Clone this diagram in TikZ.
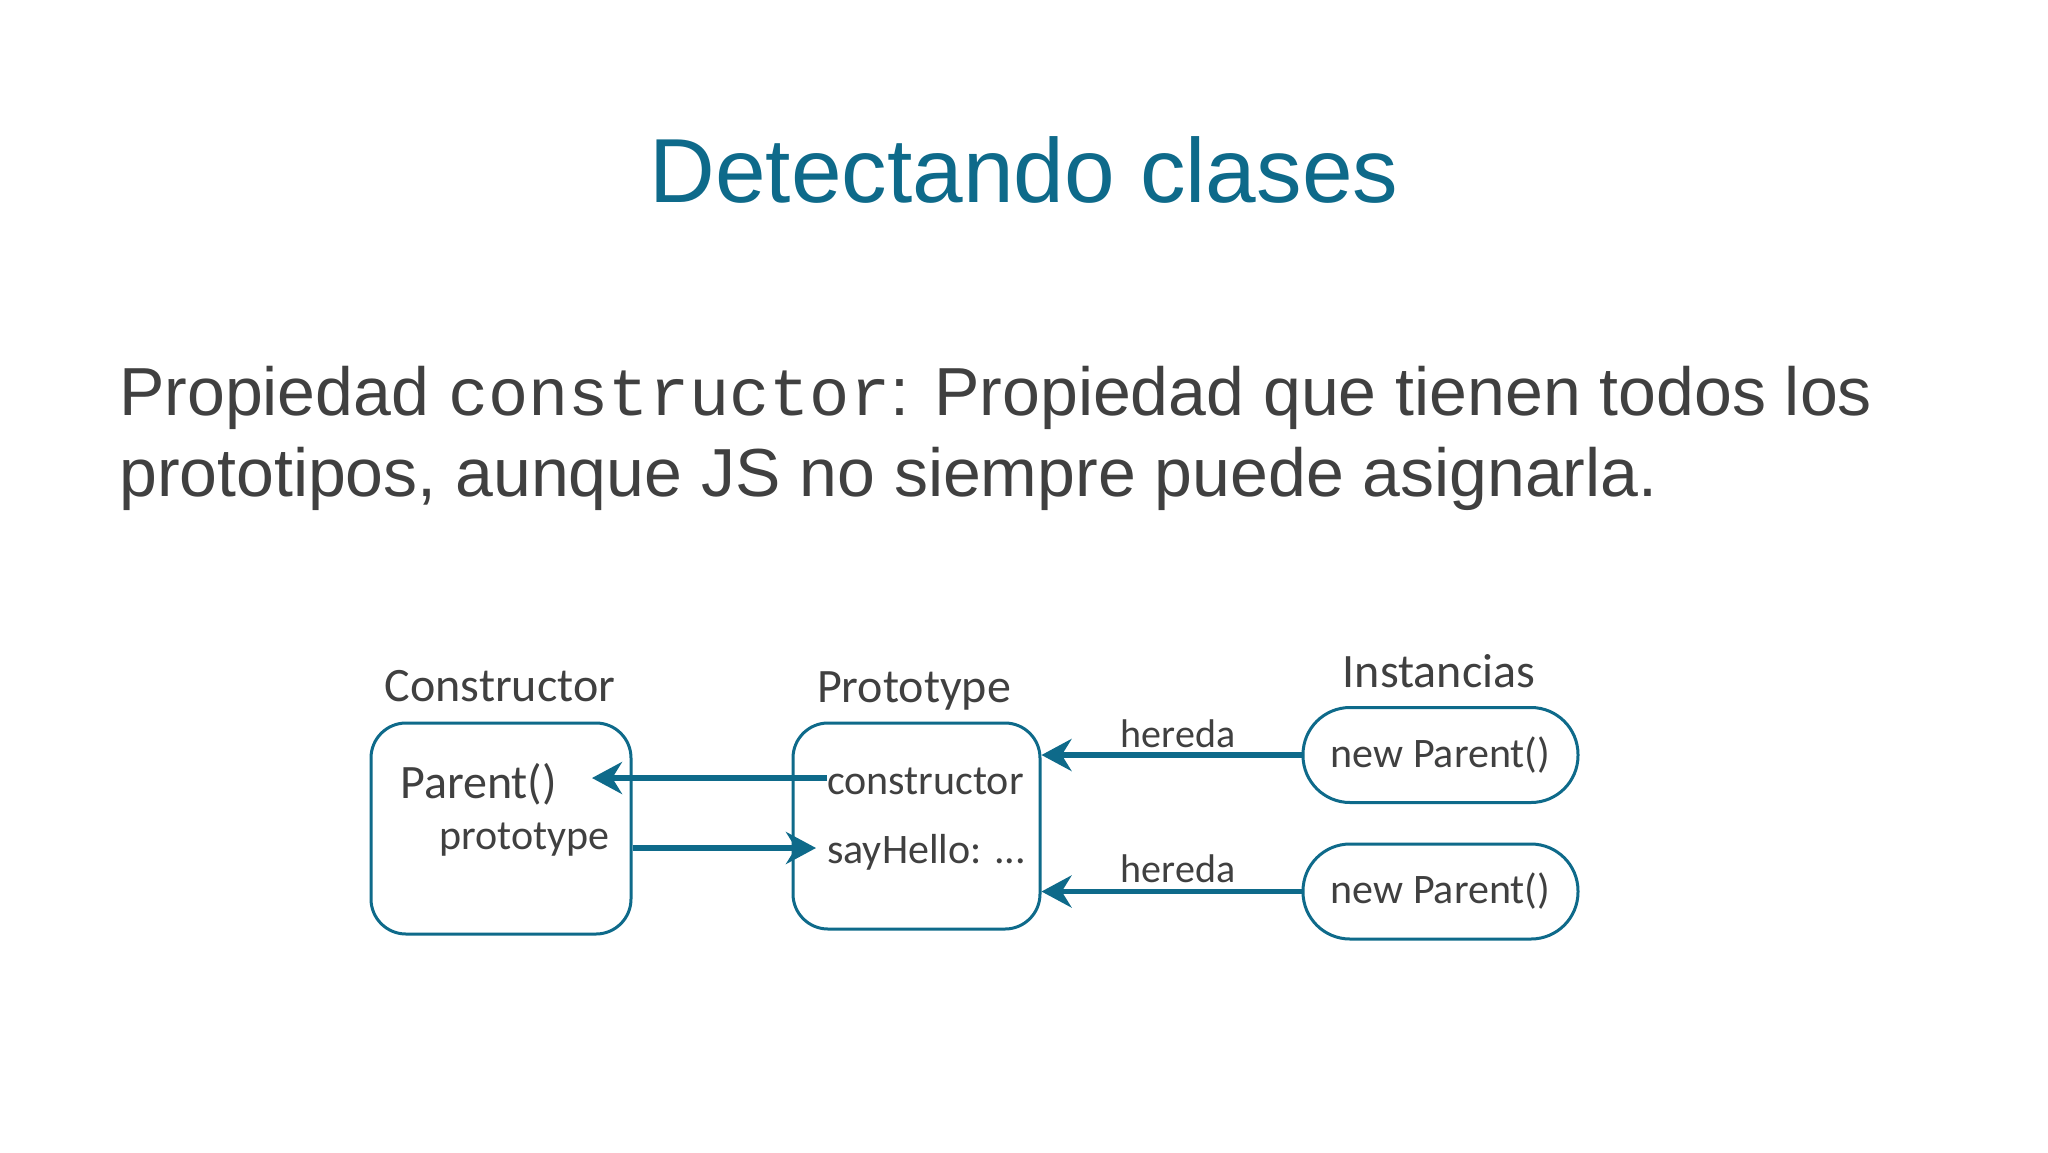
\documentclass[tikz,border=0pt]{standalone}
\usepackage{fontspec}
\setmainfont{Liberation Sans}
\newfontfamily\monof{Liberation Mono}
\newfontfamily\calib{Carlito}
\usetikzlibrary{arrows.meta}
\definecolor{teal1}{RGB}{14,106,138}
\definecolor{txt}{RGB}{64,64,64}
\tikzset{
  box/.style={draw=teal1, line width=3pt, rounded corners=35pt, inner sep=0pt},
  pill/.style={draw=teal1, line width=3pt, rounded corners=47pt, inner sep=0pt, minimum width=275pt, minimum height=95pt, text=txt, font=\calib\fontsize{42}{50}\selectfont},
  lbl/.style={inner sep=0pt, text=txt, font=\calib\fontsize{48}{56}\selectfont},
  small/.style={inner sep=0pt, text=txt, font=\calib\fontsize{42}{50}\selectfont},
  arr/.style={draw=teal1, line width=5.5pt, -{Stealth[length=30pt, width=32pt]}},
}
\begin{document}
\begin{tikzpicture}[x=1pt, y=-1pt]
\useasboundingbox[fill=white] (0,0) rectangle (2048,1152);
% title
\node[anchor=base, inner sep=0pt, text=teal1, font=\fontsize{91}{100}\selectfont] (title) at (1024,202) {Detectando clases};
% body
\node[anchor=base west, inner sep=0pt, text=txt, font=\fontsize{68}{81}\selectfont] (l1) at (119,415) {Propiedad {\monof\fontsize{67}{81}\selectfont constructor}: Propiedad que tienen todos los};
\node[anchor=base west, inner sep=0pt, text=txt, font=\fontsize{68}{81}\selectfont] (l2) at (119,496) {prototipos, aunque JS no siempre puede asignarla.};
% column labels
\node[lbl, anchor=base] (hc) at (500,701) {Constructor};
\node[lbl, anchor=base] (hp) at (914,702) {Prototype};
\node[lbl, anchor=base] (hi) at (1439,687) {Instancias};
% boxes
\node[box, minimum width=260pt, minimum height=211pt] (cbox) at (501,828.5) {};
\node[box, minimum width=247pt, minimum height=206pt] (pbox) at (916.5,826) {};
\node[pill] (i1) at (1440.5,755) {new Parent()};
\node[pill] (i2) at (1440.5,891.5) {new Parent()};
% box contents
\node[lbl, anchor=base west] (ptext) at (400,798) {Parent()};
\node[small, anchor=base west] (prtext) at (439,849) {prototype};
\node[small, anchor=base west] (ctext) at (827,794) {constructor};
\node[small, anchor=base west] (stext) at (827,863) {sayHello: ...};
% arrows
\coordinate (t1) at (592,778);
\coordinate (t2) at (816,848);
\draw[arr] (ctext.west |- t1) -- (t1);
\draw[arr] (t2 -| cbox.east) -- (t2);
\draw[arr] (i1.west) -- (i1.west -| pbox.east);
\draw[arr] (i2.west) -- (i2.west -| pbox.east);
\node[small, anchor=base, font=\calib\fontsize{40}{48}\selectfont] (h1) at (1178,747) {hereda};
\node[small, anchor=base, font=\calib\fontsize{40}{48}\selectfont] (h2) at (1178,882) {hereda};
\end{tikzpicture}
\end{document}
